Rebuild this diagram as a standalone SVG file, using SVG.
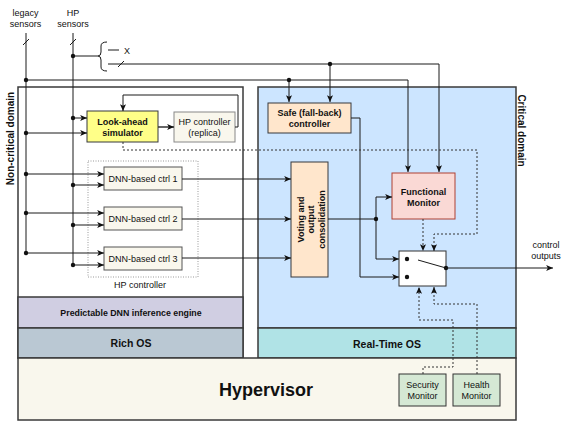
<svg xmlns="http://www.w3.org/2000/svg" width="568" height="427" viewBox="0 0 568 427">
<style>
text{font-family:"Liberation Sans",Arial,sans-serif;fill:#111;}
.b{font-weight:bold;}
.s9{font-size:9px;}
.c{text-anchor:middle;}
.dom{stroke:#3a3a3a;stroke-width:1.5;}
.box{stroke:#36393d;stroke-width:1;}
.ln{fill:none;stroke:#1a1a1a;stroke-width:1;}
.dt{fill:none;stroke:#333;stroke-width:1;stroke-dasharray:2,2;}
.dot{fill:#111;}
</style>
<defs>
<marker id="arr" viewBox="0 0 8 7" refX="8" refY="3.5" markerWidth="7" markerHeight="6" orient="auto" markerUnits="userSpaceOnUse"><path d="M0,0 L8,3.5 L0,7 L2,3.5 z" fill="#111"/></marker>
</defs>
<rect width="568" height="427" fill="#fff"/>

<g id="noncritical">
<rect x="18" y="87" width="225" height="271" fill="#fff" class="dom"/>
<text class="b c" font-size="10" transform="translate(14,138.5) rotate(-90)">Non-critical domain</text>
</g>
<g id="dnn-engine">
<rect x="18" y="297" width="225" height="31" fill="#d0cee2" class="dom"/>
<text class="b c" font-size="8.8" x="131" y="316">Predictable DNN inference engine</text>
</g>
<g id="rich-os">
<rect x="18" y="328" width="225" height="30" fill="#bac8d3" class="dom"/>
<text class="b c" font-size="10.5" x="131" y="347">Rich OS</text>
</g>
<g id="critical">
<rect x="258" y="87" width="258" height="241" fill="#cce5ff" class="dom"/>
<text class="b c" font-size="10" transform="translate(518,130.5) rotate(90)">Critical domain</text>
</g>
<g id="rtos">
<rect x="258" y="328" width="258" height="30" fill="#b0e3e6" class="dom"/>
<text class="b c" font-size="10.5" x="387" y="348">Real-Time OS</text>
</g>
<g id="hypervisor">
<rect x="18" y="358" width="498" height="62" fill="#f9f7ed" class="dom"/>
<text class="b c" font-size="18" x="266" y="396">Hypervisor</text>
</g>

<g id="sensors">
<text class="s9 c" x="25.5" y="16">legacy</text>
<text class="s9 c" x="25.5" y="27">sensors</text>
<text class="s9 c" x="73" y="16">HP</text>
<text class="s9 c" x="73" y="27">sensors</text>
<text class="s9" x="124" y="53.5">X</text>
</g>

<g id="hp-controller">
<rect x="88" y="161" width="110" height="116" fill="none" stroke="#999" stroke-width="1" stroke-dasharray="1,1.5"/>
<text class="s9 c" x="140" y="288">HP controller</text>
</g>
<g id="lookahead">
<rect x="87" y="111" width="71" height="31" fill="#ffff88" class="box"/>
<text class="s9 b c" x="122.5" y="125">Look-ahead</text>
<text class="s9 b c" x="122.5" y="135.5">simulator</text>
</g>
<g id="replica">
<rect x="174" y="112" width="61" height="30" fill="#f9f7ed" stroke="#888" stroke-width="1"/>
<text class="s9 c" x="204.5" y="125">HP controller</text>
<text class="s9 c" x="204.5" y="136">(replica)</text>
</g>
<g id="dnn1">
<rect x="104" y="167" width="78" height="23" fill="#f9f7ed" stroke="#555" stroke-width="1"/>
<text class="s9 c" x="143" y="182">DNN-based ctrl 1</text>
</g>
<g id="dnn2">
<rect x="104" y="207" width="78" height="23" fill="#f9f7ed" stroke="#555" stroke-width="1"/>
<text class="s9 c" x="143" y="222">DNN-based ctrl 2</text>
</g>
<g id="dnn3">
<rect x="104" y="247" width="78" height="23" fill="#f9f7ed" stroke="#555" stroke-width="1"/>
<text class="s9 c" x="143" y="262">DNN-based ctrl 3</text>
</g>
<g id="safe">
<rect x="268" y="103" width="83" height="30" fill="#ffe6cc" class="box"/>
<text class="s9 b c" x="309.5" y="115.5">Safe (fall-back)</text>
<text class="s9 b c" x="309.5" y="127">controller</text>
</g>
<g id="voting">
<rect x="291" y="162" width="37" height="115" fill="#ffe6cc" class="box"/>
<g transform="translate(303.5,219.5) rotate(-90)">
<text class="s9 b c" x="0" y="0">Voting and</text>
<text class="s9 b c" x="0" y="10.7">output</text>
<text class="s9 b c" x="0" y="21.4">consolidation</text>
</g>
</g>
<g id="functional-monitor">
<rect x="392" y="173" width="63" height="46" fill="#fad9d5" stroke="#ae4132" stroke-width="1"/>
<text class="s9 b c" x="423.5" y="195">Functional</text>
<text class="s9 b c" x="423.5" y="206">Monitor</text>
</g>
<g id="switch">
<rect x="399" y="251" width="47" height="35" fill="#fff" stroke="#333" stroke-width="1"/>
<path d="M418,260 L446,268" class="ln"/>
<circle cx="407" cy="259" r="2.2" class="dot"/>
<circle cx="407" cy="277" r="2.2" class="dot"/>
<circle cx="446" cy="268" r="2.2" class="dot"/>
</g>
<g id="outputs">
<text class="s9 c" x="546" y="248">control</text>
<text class="s9 c" x="546" y="258.5">outputs</text>
</g>
<g id="security">
<rect x="399" y="374" width="47" height="32" fill="#d5e8d4" stroke="#333" stroke-width="1"/>
<text class="s9 c" x="422.5" y="387.5">Security</text>
<text class="s9 c" x="422.5" y="398.5">Monitor</text>
</g>
<g id="health">
<rect x="453" y="374" width="47" height="32" fill="#d5e8d4" stroke="#333" stroke-width="1"/>
<text class="s9 c" x="476.5" y="387.5">Health</text>
<text class="s9 c" x="476.5" y="398.5">Monitor</text>
</g>

<g id="connectors">
<path class="ln" d="M26,33 V253"/>
<path class="ln" d="M73,33 V265"/>
<path class="ln" d="M23,45 L29,39 M70,45 L76,39"/>
<path class="ln" d="M26,80 H408 V172" marker-end="url(#arr)"/>
<path class="ln" d="M73,56 H98"/>
<path class="ln" d="M107,42 Q101,42 101,46 L101,52 Q101,56 98,56 Q101,56 101,60 L101,67 Q101,71 107,71"/>
<path class="ln" d="M108,50 H119"/>
<path class="ln" d="M108,64 H439 V172" marker-end="url(#arr)"/>
<path class="ln" d="M118,67 L124,61"/>
<path class="ln" d="M289,80 V102" marker-end="url(#arr)"/>
<path class="ln" d="M330,64 V102" marker-end="url(#arr)"/>
<path class="ln" d="M73,118 H87" marker-end="url(#arr)"/>
<path class="ln" d="M26,133 H87" marker-end="url(#arr)"/>
<path d="M158,127 H174" fill="none" stroke="#333" stroke-width="1.5" marker-end="url(#arr)"/>
<path class="ln" d="M235,127 H238 V95 H123 V111" marker-end="url(#arr)"/>
<path class="ln" d="M26,174 H104" marker-end="url(#arr)"/>
<path class="ln" d="M73,185 H104" marker-end="url(#arr)"/>
<path class="ln" d="M26,213 H104" marker-end="url(#arr)"/>
<path class="ln" d="M73,225 H104" marker-end="url(#arr)"/>
<path class="ln" d="M26,253 H104" marker-end="url(#arr)"/>
<path class="ln" d="M73,265 H104" marker-end="url(#arr)"/>
<path class="ln" d="M182,179 H291" marker-end="url(#arr)"/>
<path class="ln" d="M182,219 H291" marker-end="url(#arr)"/>
<path class="ln" d="M182,258 H291" marker-end="url(#arr)"/>
<path class="ln" d="M328,219 H376"/>
<path class="ln" d="M376,219 V197 H392" marker-end="url(#arr)"/>
<path class="ln" d="M376,219 V259 H399" marker-end="url(#arr)"/>
<path class="ln" d="M351,118 H360 V277 H399" marker-end="url(#arr)"/>
<path class="ln" d="M446,268 H553" marker-end="url(#arr)"/>
<path class="dt" d="M123,142 V150 H477 V234 H434 V251" marker-end="url(#arr)"/>
<path class="dt" d="M423,219 V251" marker-end="url(#arr)"/>
<path class="dt" d="M423,374 V367 H453 V320 H419 V287" marker-end="url(#arr)"/>
<path class="dt" d="M477,374 V304 H434 V287" marker-end="url(#arr)"/>
<circle cx="26" cy="80" r="2.2" class="dot"/>
<circle cx="73" cy="56" r="2.2" class="dot"/>
<circle cx="289" cy="80" r="2.2" class="dot"/>
<circle cx="330" cy="64" r="2.2" class="dot"/>
<circle cx="73" cy="118" r="2.2" class="dot"/>
<circle cx="26" cy="133" r="2.2" class="dot"/>
<circle cx="26" cy="174" r="2.2" class="dot"/>
<circle cx="73" cy="185" r="2.2" class="dot"/>
<circle cx="26" cy="213" r="2.2" class="dot"/>
<circle cx="73" cy="225" r="2.2" class="dot"/>
<circle cx="26" cy="253" r="2.2" class="dot"/>
<circle cx="73" cy="265" r="2.2" class="dot"/>
<circle cx="376" cy="219" r="2.2" class="dot"/>
</g>
</svg>
